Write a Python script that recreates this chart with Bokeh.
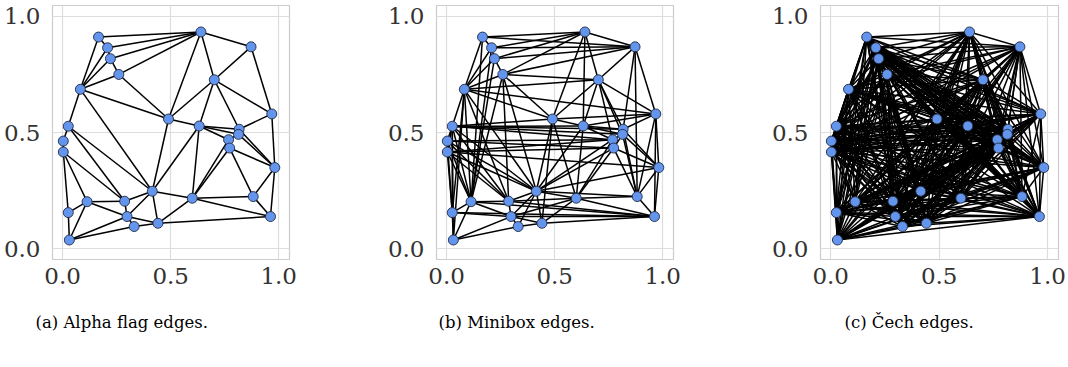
from itertools import combinations
from math import hypot

from bokeh.embed import file_html
from bokeh.layouts import row
from bokeh.models import ColumnDataSource, FixedTicker, Range1d, Title
from bokeh.plotting import figure
from bokeh.resources import INLINE

# Point cloud (30 points in the unit square)
xs = [0.166, 0.208, 0.221, 0.260, 0.082, 0.640, 0.872, 0.702, 0.968, 0.490,
      0.632, 0.817, 0.814, 0.768, 0.773, 0.982, 0.026, 0.003, 0.003, 0.415,
      0.600, 0.882, 0.962, 0.113, 0.287, 0.026, 0.298, 0.331, 0.441, 0.031]
ys = [0.911, 0.865, 0.818, 0.750, 0.686, 0.933, 0.869, 0.727, 0.580, 0.558,
      0.528, 0.514, 0.492, 0.469, 0.433, 0.349, 0.527, 0.463, 0.416, 0.247,
      0.217, 0.224, 0.138, 0.202, 0.204, 0.155, 0.138, 0.095, 0.109, 0.037]

# Edges of the alpha flag complex (1-based point numbers)
alpha_edges = [
    (1, 6), (2, 6), (3, 6), (4, 6), (1, 2), (2, 3), (3, 4),
    (1, 5), (2, 5), (3, 5), (4, 5), (5, 10), (5, 17), (5, 20),
    (4, 10), (6, 10), (6, 8), (6, 7), (7, 8), (7, 9), (8, 9), (8, 10),
    (8, 11), (8, 12), (10, 11), (10, 20), (9, 12), (9, 16), (11, 12),
    (11, 13), (11, 14), (11, 20), (11, 21), (12, 13), (13, 14), (14, 15),
    (12, 16), (13, 16), (15, 16), (14, 21), (15, 21), (15, 22), (16, 22),
    (16, 23), (22, 23), (21, 22), (21, 23), (20, 21), (21, 29), (29, 23),
    (17, 18), (18, 19), (17, 20), (17, 25), (19, 25), (19, 24), (19, 26),
    (20, 25), (20, 27), (20, 29), (24, 25), (24, 26), (24, 27), (24, 30),
    (26, 30), (25, 27), (27, 28), (27, 29), (28, 29), (27, 30), (28, 30),
]

# Čech scale: two points are joined when their distance is at most this
cech_diameter = 1.10

captions = ["(a) Alpha flag edges.", "(b) Minibox edges.", "(c) Čech edges."]
ticks = [0.0, 0.5, 1.0]
tick_labels = {0.0: "0.0", 0.5: "0.5", 1.0: "1.0"}

n = len(xs)


def minibox_edges():
    """Pairs whose spanned axis-parallel box holds no other point."""
    out = []
    for i, j in combinations(range(n), 2):
        x0, x1 = sorted((xs[i], xs[j]))
        y0, y1 = sorted((ys[i], ys[j]))
        empty = True
        for k in range(n):
            if k in (i, j):
                continue
            if x0 < xs[k] < x1 and y0 < ys[k] < y1:
                empty = False
                break
        if empty:
            out.append((i, j))
    return out


def cech_edges():
    return [(i, j) for i, j in combinations(range(n), 2)
            if hypot(xs[i] - xs[j], ys[i] - ys[j]) <= cech_diameter]


edge_sets = [
    [(a - 1, b - 1) for a, b in alpha_edges],
    minibox_edges(),
    cech_edges(),
]

SERIF = "'DejaVu Serif', serif"


def panel(edges, caption, width, right, cap_offset):
    p = figure(width=width, height=367,
               x_range=Range1d(-0.047, 1.05), y_range=Range1d(-0.047, 1.047),
               output_backend="svg", toolbar_location=None,
               min_border_left=49, min_border_right=right,
               min_border_top=5, min_border_bottom=108)
    p.background_fill_color = "white"
    p.border_fill_color = "white"
    p.outline_line_color = "#cccccc"
    p.outline_line_width = 1.2

    for ax in (p.xaxis, p.yaxis):
        ax.ticker = FixedTicker(ticks=ticks)
        ax.major_label_overrides = tick_labels
        ax.axis_line_color = None
        ax.major_tick_line_color = None
        ax.minor_tick_line_color = None
        ax.major_label_text_font = SERIF
        ax.major_label_text_font_size = "23px"
        ax.major_label_text_color = "#333333"
    p.xaxis.major_label_standoff = 2
    p.yaxis.major_label_standoff = 6

    p.grid.grid_line_color = "#dddddd"
    p.grid.grid_line_width = 1.2

    ex = [[xs[i], xs[j]] for i, j in edges]
    ey = [[ys[i], ys[j]] for i, j in edges]
    p.multi_line(ex, ey, line_color="black", line_width=1.5)

    src = ColumnDataSource(dict(x=xs, y=ys))
    p.scatter("x", "y", source=src, size=10, fill_color="#6495ed",
              line_color="#1f2a44", line_width=0.9)

    p.add_layout(Title(text=caption, align="left", offset=cap_offset,
                       text_font=SERIF, text_font_size="16.5px",
                       text_font_style="normal", text_color="black",
                       standoff=48), "below")
    return p


pa = panel(edge_sets[0], captions[0], 384, 95, -17)
pb = panel(edge_sets[1], captions[1], 384, 95, 2)
pc = panel(edge_sets[2], captions[2], 300, 10, 24)

layout = row(pa, pb, pc)
open("out.html", "w").write(file_html(layout, INLINE))
